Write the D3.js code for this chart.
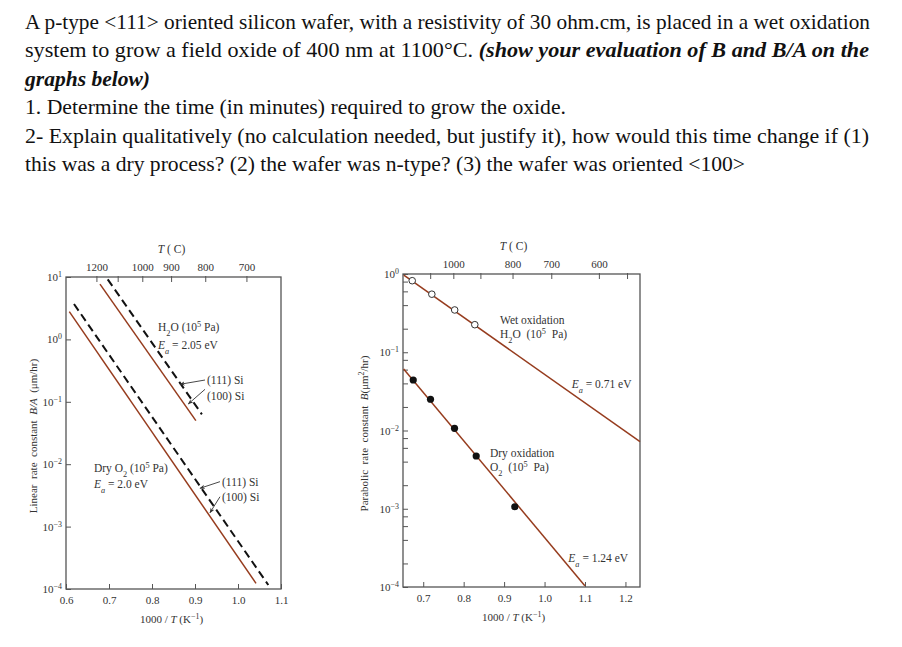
<!DOCTYPE html>
<html>
<head>
<meta charset="utf-8">
<script src="https://cdn.jsdelivr.net/npm/d3@7"></script>
<style>
  body { margin: 0; background: #fff; }
  svg { display: block; }
  text { font-family: "Liberation Serif", "Times New Roman", serif; fill: #333; }
</style>
</head>
<body>
<svg id="chart" width="902" height="647"></svg>
<script>
// question text; part after "|" is bold italic
const questionLines = [
  'A p-type <111> oriented silicon wafer, with a resistivity of 30 ohm.cm, is placed in a wet oxidation',
  'system to grow a field oxide of 400 nm at 1100°C. |(show your evaluation of B and B/A on the',
  '|graphs below)',
  '1. Determine the time (in minutes) required to grow the oxide.',
  '2- Explain qualitatively (no calculation needed, but justify it), how would this time change if (1)',
  'this was a dry process? (2) the wafer was n-type? (3) the wafer was oriented <100>',
];

// left chart: linear rate constant B/A, points are [1000/T, B/A]
const linearTicksX = [0.6, 0.7, 0.8, 0.9, 1.0, 1.1];
const linearDecades = [1, 0, -1, -2, -3, -4];
const linearTempTicks = [1200, 1100, 1000, 900, 800, 700];
const linearTempLabels = [1200, 1000, 900, 800, 700];
const wet100 = [[0.679, 7.7], [0.902, 0.0498]];
const wet111 = [[0.697, 9.18], [0.916, 0.063]];
const dry100 = [[0.6077, 2.78], [1.0419, 1.23e-4]];
const dry111 = [[0.6186, 3.69], [1.0705, 1.16e-4]];

// right chart: parabolic rate constant B
const parabolicTicksX = [0.7, 0.8, 0.9, 1.0, 1.1, 1.2];
const parabolicDecades = [0, -1, -2, -3, -4];
const parabolicMinor = [2, 4, 6, 8];
const parabolicTempTicks = [1100, 1000, 900, 800, 700, 600, 550];
const parabolicTempLabels = [1000, 800, 700, 600];
const wetLine = [[0.652, 0.97], [1.236, 0.00719]];
const wetPoints = [[0.6728, 0.821], [0.7213, 0.552], [0.7778, 0.347], [0.8275, 0.225]];
const dryLine = [[0.6516, 0.0611], [1.0996, 1.04e-4]];
const dryPoints = [[0.6753, 0.0442], [0.718, 0.0251], [0.7774, 0.01067], [0.831, 0.00472], [0.9264, 0.00106]];

// annotations: [x, y, text] in data units
const linearNotes = [
  [0.814, 1.58, 'H_{2}O (10^{5} Pa)'],
  [0.814, 0.813, '*E*_{*a*} = 2.05 eV'],
  [0.928, 0.2234, '(111) Si'],
  [0.928, 0.1243, '(100) Si'],
  [0.665, 0.00869, 'Dry O_{2} (10^{5} Pa)'],
  [0.665, 0.00482, '*E*_{*a*} = 2.0 eV'],
  [0.9628, 0.00525, '(111) Si'],
  [0.9628, 0.00301, '(100) Si'],
];
const linearArrows = [
  [[0.9233, 0.2234], [0.8651, 0.1907]],
  [[0.9233, 0.1586], [0.8844, 0.0923]],
  [[0.9581, 0.00525], [0.9116, 0.00411]],
  [[0.9581, 0.00301], [0.9349, 0.00167]],
];
const parabolicNotes = [
  [0.8899, 0.258, 'Wet oxidation'],
  [0.8899, 0.171, 'H_{2}O  (10^{5}  Pa)'],
  [1.067, 0.0389, '*E*_{*a*} = 0.71 eV'],
  [0.865, 0.00511, 'Dry oxidation'],
  [0.865, 0.00342, 'O_{2}  (10^{5}  Pa)'],
  [1.0588, 2.33e-4, '*E*_{*a*} = 1.24 eV'],
];

const svg = d3.select('#chart');
const brown = '#963c1e';

// small markup: ^{sup} _{sub} *italic*
function rich(sel, str) {
  str.split(/(\^\{[^}]*\}|_\{[^}]*\}|\*[^*]*\*)/).filter(Boolean).forEach(p => {
    const t = sel.append('tspan');
    let s = p;
    if (p[0] === '^' || p[0] === '_') {
      t.attr('baseline-shift', p[0] === '^' ? 'super' : 'sub').attr('font-size', '72%');
      s = p.slice(2, -1);
    }
    if (s[0] === '*') {
      t.attr('font-style', 'italic');
      s = s.slice(1, -1);
    }
    t.text(s);
  });
}

// question
const lineWidths = [845, 844, 125, 541, 844, 720];
questionLines.forEach((line, i) => {
  const [plain, strong] = line.split('|');
  const t = svg.append('text')
    .attr('x', 25)
    .attr('y', 29 + i * 28.4)
    .attr('font-size', 22)
    .style('fill', '#111')
    .style('white-space', 'pre')
    .attr('textLength', lineWidths[i])
    .attr('lengthAdjust', 'spacingAndGlyphs');
  if (plain) t.append('tspan').text(plain);
  if (strong) t.append('tspan').attr('font-weight', 'bold').attr('font-style', 'italic').text(strong);
});

function drawPanel(cfg) {
  const { x, y, g } = cfg;
  const [x0, x1] = x.range();
  const [y0, y1] = y.range();

  // bottom axis
  g.append('g')
    .attr('transform', `translate(0,${y0})`)
    .call(d3.axisBottom(x).tickValues(cfg.ticksX).tickSizeInner(-5).tickSizeOuter(0)
      .tickPadding(7).tickFormat(d3.format('.1f')))
    .call(a => a.select('.domain').remove())
    .call(a => a.selectAll('.tick line').attr('stroke', '#555'))
    .call(a => a.selectAll('.tick text').attr('font-size', 11).attr('font-family', null));

  // left axis
  g.append('g')
    .attr('transform', `translate(${x0},0)`)
    .call(d3.axisLeft(y).tickValues(cfg.ticksY).tickSizeInner(-cfg.tickLen).tickSizeOuter(0)
      .tickPadding(4).tickFormat(''))
    .call(a => a.select('.domain').remove())
    .call(a => a.selectAll('.tick line').attr('stroke', '#555'))
    .call(a => a.selectAll('.tick text')
      .filter(d => Number.isInteger(Math.log10(d)) && cfg.decades.includes(Math.round(Math.log10(d))))
      .attr('font-size', 11).attr('font-family', null)
      .each(function (d) {
        const e = Math.round(Math.log10(d));
        rich(d3.select(this), '10^{' + String(e).replace('-', '−') + '}');
      }));

  // top temperature axis
  const tx = t => x(1000 / (t + 273)) + cfg.topShift;
  g.selectAll(null).data(cfg.tempTicks).join('line')
    .attr('x1', tx).attr('x2', tx)
    .attr('y1', y1 - 1).attr('y2', y1 + 5)
    .attr('stroke', '#555');
  g.selectAll(null).data(cfg.tempLabels).join('text')
    .attr('x', tx).attr('y', y1 - 6)
    .attr('text-anchor', 'middle').attr('font-size', 11)
    .text(d => d);

  // frame
  g.append('rect')
    .attr('x', x0).attr('y', y1)
    .attr('width', x1 - x0).attr('height', y0 - y1)
    .attr('fill', 'none').attr('stroke', '#555').attr('stroke-width', 1.3);

  // titles
  const tt = g.append('text').attr('x', (x0 + x1) / 2 + cfg.titleDx).attr('y', y1 - 24)
    .attr('text-anchor', 'middle').attr('font-size', 11.5).style('white-space', 'pre');
  rich(tt, '*T* ( C)');
  const xt = g.append('text').attr('x', (x0 + x1) / 2 + cfg.titleDx).attr('y', y0 + 34)
    .attr('text-anchor', 'middle').attr('font-size', 11).style('white-space', 'pre');
  rich(xt, '1000 / *T* (K^{−1})');
  const yt = g.append('text')
    .attr('transform', `translate(${cfg.yTitleX},${(y0 + y1) / 2 + 3}) rotate(-90)`)
    .attr('text-anchor', 'middle').attr('font-size', 11).style('white-space', 'pre');
  rich(yt, cfg.yTitle);
}

const line = (x, y) => d3.line().x(d => x(d[0])).y(d => y(d[1]));

// marker for arrows
svg.append('defs').append('marker')
  .attr('id', 'arrow').attr('viewBox', '0 0 10 10')
  .attr('refX', 9).attr('refY', 5)
  .attr('markerWidth', 6).attr('markerHeight', 6)
  .attr('orient', 'auto')
  .append('path').attr('d', 'M0,1 L10,5 L0,9 L3,5 Z').attr('fill', '#333');

// ---- left chart
const xL = d3.scaleLinear().domain([0.6, 1.1]).range([66, 281]);
const yL = d3.scaleLog().domain([1e-4, 10]).range([589, 277]);
const gL = svg.append('g');
drawPanel({
  x: xL, y: yL, g: gL,
  ticksX: linearTicksX,
  ticksY: linearDecades.map(d => 10 ** d),
  decades: linearDecades,
  tickLen: 5,
  tempTicks: linearTempTicks, tempLabels: linearTempLabels,
  topShift: -3, titleDx: -2,
  yTitle: 'Linear  rate  constant  *B/A*  (μm/hr)', yTitleX: 37,
});
[wet100, dry100].forEach(d => gL.append('path').datum(d)
  .attr('d', line(xL, yL)).attr('fill', 'none').attr('stroke', brown).attr('stroke-width', 1.5));
[wet111, dry111].forEach(d => gL.append('path').datum(d)
  .attr('d', line(xL, yL)).attr('fill', 'none').attr('stroke', '#111')
  .attr('stroke-width', 2).attr('stroke-dasharray', '8,4.5'));
linearArrows.forEach(d => gL.append('path').datum(d)
  .attr('d', line(xL, yL)).attr('fill', 'none').attr('stroke', '#333')
  .attr('stroke-width', 0.9).attr('marker-end', 'url(#arrow)'));
linearNotes.forEach(([a, b, s]) => {
  const t = gL.append('text').attr('x', xL(a)).attr('y', yL(b)).attr('dy', '0.35em')
    .attr('font-size', 11.5).style('white-space', 'pre');
  rich(t, s);
});

// ---- right chart
const xR = d3.scaleLinear().domain([0.65, 1.236]).range([403, 640]);
const yR = d3.scaleLog().domain([1e-4, 1]).range([587, 274]);
const gR = svg.append('g');
const rightTicks = [];
parabolicDecades.forEach(e => {
  rightTicks.push(10 ** e);
  if (e > -4) parabolicMinor.forEach(m => rightTicks.push(m * 10 ** (e - 1)));
});
drawPanel({
  x: xR, y: yR, g: gR,
  ticksX: parabolicTicksX,
  ticksY: rightTicks,
  decades: parabolicDecades,
  tickLen: 5,
  tempTicks: parabolicTempTicks, tempLabels: parabolicTempLabels,
  topShift: -4, titleDx: -8,
  yTitle: 'Parabolic  rate  constant  *B*(μm^{2}/hr)', yTitleX: 368,
});
[wetLine, dryLine].forEach(d => gR.append('path').datum(d)
  .attr('d', line(xR, yR)).attr('fill', 'none').attr('stroke', brown).attr('stroke-width', 1.5));
gR.selectAll(null).data(wetPoints).join('circle')
  .attr('cx', d => xR(d[0])).attr('cy', d => yR(d[1])).attr('r', 3.3)
  .attr('fill', '#fff').attr('stroke', '#333').attr('stroke-width', 1);
gR.selectAll(null).data(dryPoints).join('circle')
  .attr('cx', d => xR(d[0])).attr('cy', d => yR(d[1])).attr('r', 3.6)
  .attr('fill', '#111');
parabolicNotes.forEach(([a, b, s]) => {
  const t = gR.append('text').attr('x', xR(a)).attr('y', yR(b)).attr('dy', '0.35em')
    .attr('font-size', 11.5).style('white-space', 'pre');
  rich(t, s);
});
</script>
</body>
</html>
